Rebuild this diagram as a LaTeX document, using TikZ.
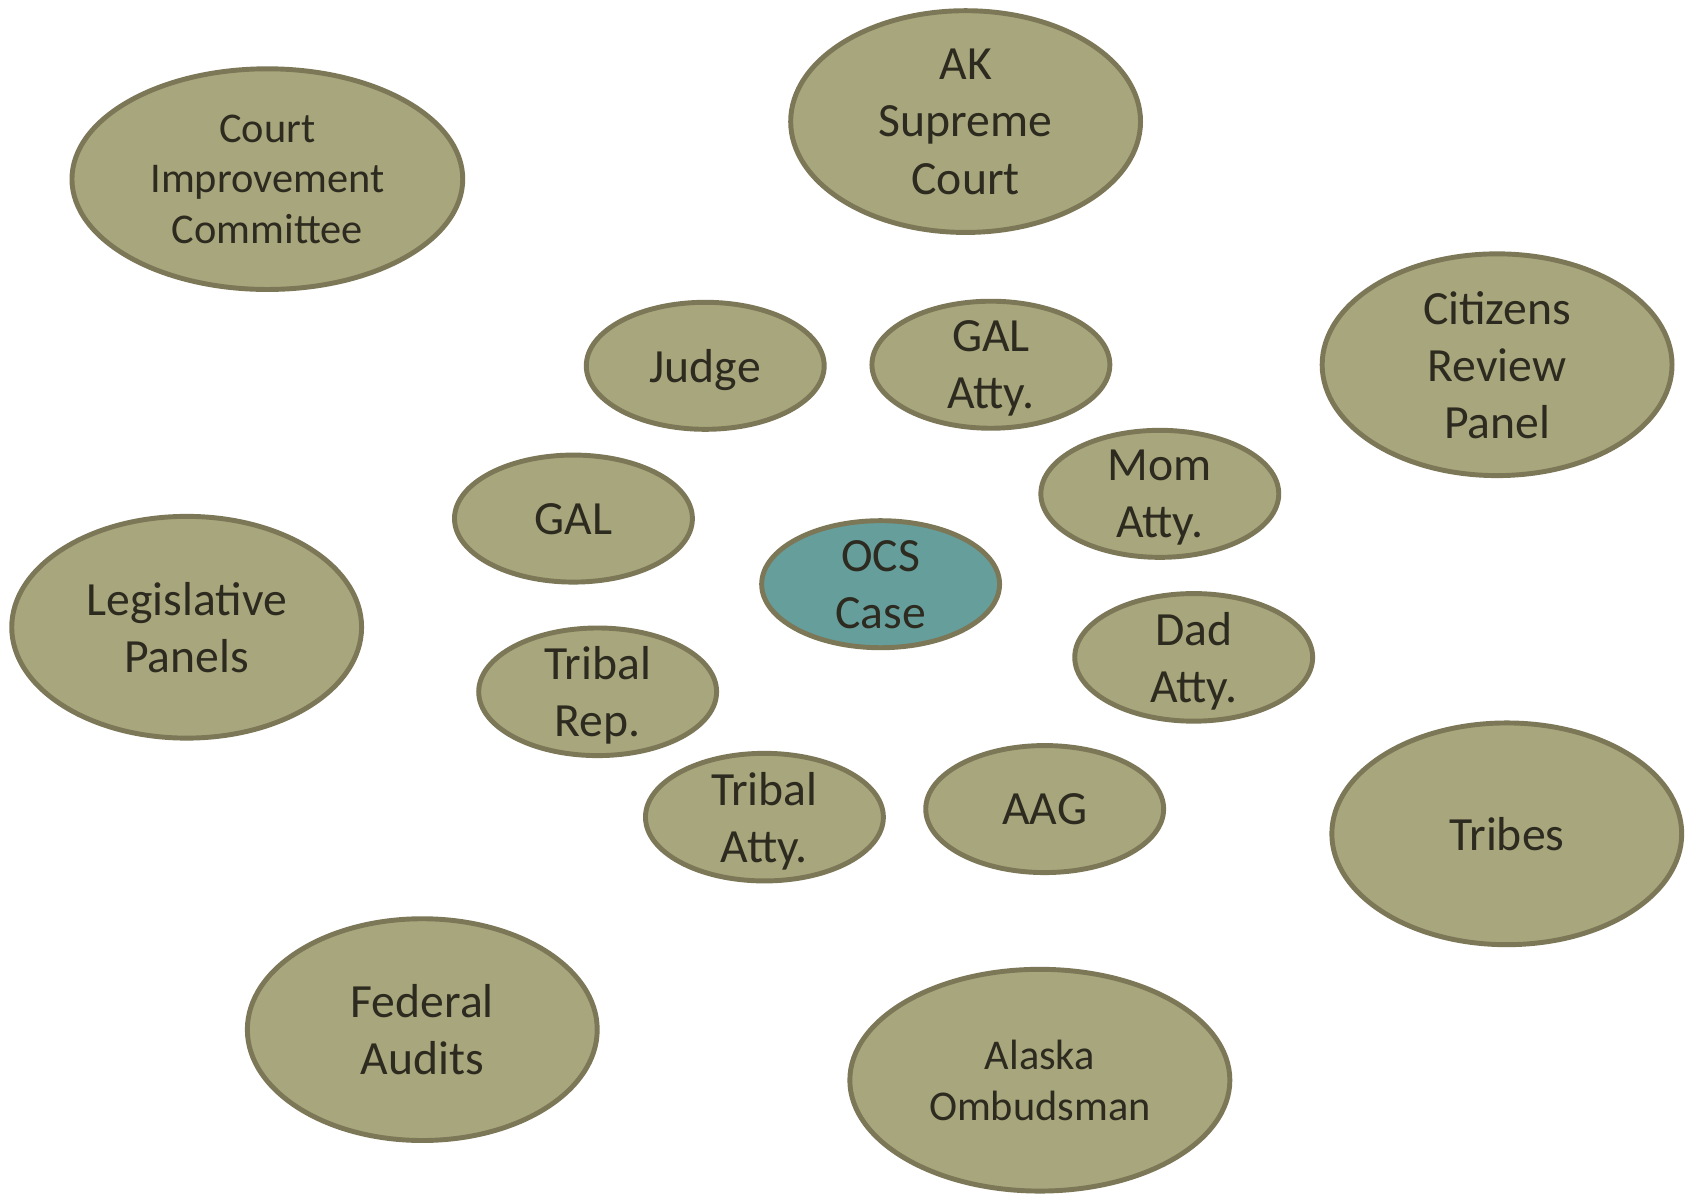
\documentclass[tikz,border=0pt]{standalone}
\usepackage{fontspec}
\setmainfont{Carlito}
\usetikzlibrary{shapes.geometric}

\definecolor{khaki}{HTML}{A8A67C}
\definecolor{khakiline}{HTML}{7B7757}
\definecolor{teal}{HTML}{669E9C}
\definecolor{ink}{HTML}{2D2A1F}

\pgfdeclareradialshading{vignette}{\pgfpoint{0bp}{0bp}}{color(0bp)=(white); color(50bp)=(white); color(72bp)=(black!13)}

\tikzset{
  party/.style={ellipse, draw=khakiline, fill=khaki, line width=1.3pt, inner sep=0pt, align=center, text=ink, text depth=0pt, font=\fontsize{12.6}{15.1}\selectfont},
  minor/.style={party, minimum width=2.21cm, minimum height=1.18cm},
  major/.style={party, minimum width=3.25cm, minimum height=2.06cm},
  wordy/.style={font=\fontsize{11.2}{13.4}\selectfont}
}

\begin{document}
\begin{tikzpicture}[x=0.01cm, y=-0.01cm]
  % page with a soft grey fall-off in the corners
  \useasboundingbox (0,0) rectangle (1568,1109);
  \shade[shading=vignette] (0,0) rectangle (1568,1109);

  % outer ring
  \node[major, wordy, minimum width=3.63cm, minimum height=2.05cm] (cic) at (248.5,166.5) {Court\\Improvement\\Committee};
  \node[major] (aksc) at (897.5,113) {AK\\Supreme\\Court};
  \node[major] (crp) at (1391.5,339) {Citizens\\Review\\Panel};
  \node[major] (leg) at (173.5,583) {Legislative\\Panels};
  \node[major] (tribes) at (1400.5,775) {Tribes};
  \node[major] (fed) at (392.5,957) {Federal\\Audits};
  \node[major, wordy, minimum width=3.53cm] (omb) at (966.5,1004) {Alaska\\Ombudsman};

  % inner ring
  \node[minor] (judge) at (655.5,340) {Judge};
  \node[minor] (galatty) at (921,339) {GAL\\Atty.};
  \node[minor] (mom) at (1078,459) {Mom\\Atty.};
  \node[minor] (gal) at (533,482) {GAL};
  \node[minor] (dad) at (1109.5,611) {Dad\\Atty.};
  \node[minor] (trep) at (555.5,643) {Tribal\\Rep.};
  \node[minor] (tatty) at (710.5,759.5) {Tribal\\Atty.};
  \node[minor] (aag) at (971,752) {AAG};

  % the case itself
  \node[minor, fill=teal] (ocs) at (818.5,543) {OCS\\Case};
\end{tikzpicture}
\end{document}
